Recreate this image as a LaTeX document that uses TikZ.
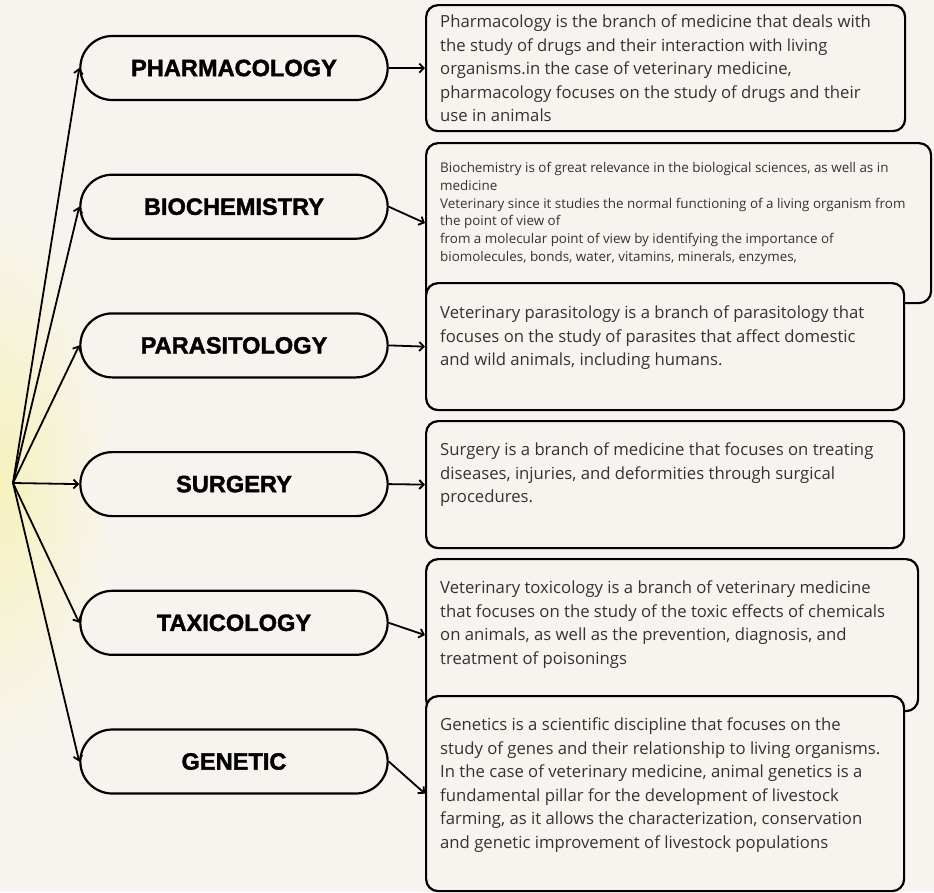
\documentclass[tikz,border=0pt]{standalone}
\usepackage{fontspec}
\setmainfont{Open Sans}
\newfontfamily\headfont[BoldFeatures={FakeBold=1.6}]{Liberation Sans}
\usetikzlibrary{positioning,shapes.misc,arrows.meta}

\definecolor{paper}{HTML}{F7F4EF}
\definecolor{glow}{HTML}{F6F2BE}
\definecolor{ink}{HTML}{333333}

\tikzset{
    topic/.style={rounded rectangle, draw, line width=2.2pt, fill=paper,
        minimum width=314pt, minimum height=64pt,
        font=\headfont\bfseries\fontsize{23.6}{24}\selectfont},
    infobox/.style={draw, line width=2.2pt, rounded corners=12pt, fill=paper,
        inner sep=0pt, anchor=north west},
    infotext/.style={anchor=north west, inner sep=0pt, text=ink, align=left,
        font=\fontsize{16.7}{23.5}\selectfont},
    smalltext/.style={infotext, font=\fontsize{13.4}{17.8}\selectfont},
    link/.style={-{Straight Barb[length=4.5pt, width=9pt, line width=1.8pt]}, line width=1.8pt},
}

\begin{document}
\begin{tikzpicture}[x=1pt, y=-1pt]
    % page and glow
    \fill[paper] (0,0) rectangle (934,892);
    \useasboundingbox (0,0) rectangle (934,892);
    \begin{scope}
        \clip (0,0) rectangle (934,892);
        \shade[inner color=glow, outer color=paper] (0,483) ellipse (115 and 280);
    \end{scope}

    % topics
    \coordinate (hub) at (13,483);
    \node[topic] (pharm) at (234,68) {PHARMACOLOGY};
    \node[topic, below=72.5pt of pharm] (bio) {BIOCHEMISTRY};
    \node[topic, below=72.5pt of bio] (para) {PARASITOLOGY};
    \node[topic, below=72.5pt of para] (surg) {SURGERY};
    \node[topic, below=72.5pt of surg] (taxi) {TAXICOLOGY};
    \node[topic, below=72.5pt of taxi] (gene) {GENETIC};

    % description boxes
    \node[infobox, minimum width=479pt, minimum height=126pt] (pharmbox) at (425,4) {};
    \node[infotext] (pharmtext) at ([shift={(15,11)}]pharmbox.north west)
        {Pharmacology is the branch of medicine that deals with\\
         the study of drugs and their interaction with living\\
         organisms.in the case of veterinary medicine,\\
         pharmacology focuses on the study of drugs and their\\
         use in animals};

    \node[infobox, minimum width=505pt, minimum height=160pt] (biobox) at (425,142) {};
    \node[smalltext] (biotext) at ([shift={(15,20)}]biobox.north west)
        {Biochemistry is of great relevance in the biological sciences, as well as in\\
         medicine\\
         Veterinary since it studies the normal functioning of a living organism from\\
         the point of view of\\
         from a molecular point of view by identifying the importance of\\
         biomolecules, bonds, water, vitamins, minerals, enzymes,};

    \node[infobox, minimum width=478pt, minimum height=127pt] (parabox) at (425,282) {};
    \node[infotext] (paratext) at ([shift={(15,24)}]parabox.north west)
        {Veterinary parasitology is a branch of parasitology that\\
         focuses on the study of parasites that affect domestic\\
         and wild animals, including humans.};

    \node[infobox, minimum width=478pt, minimum height=127pt] (surgbox) at (425,420) {};
    \node[infotext] (surgtext) at ([shift={(15,23)}]surgbox.north west)
        {Surgery is a branch of medicine that focuses on treating\\
         diseases, injuries, and deformities through surgical\\
         procedures.};

    \node[infobox, minimum width=492pt, minimum height=152pt] (taxibox) at (425,558) {};
    \node[infotext] (taxitext) at ([shift={(15,23)}]taxibox.north west)
        {Veterinary toxicology is a branch of veterinary medicine\\
         that focuses on the study of the toxic effects of chemicals\\
         on animals, as well as the prevention, diagnosis, and\\
         treatment of poisonings};

    \node[infobox, minimum width=478pt, minimum height=195pt] (genebox) at (425,695) {};
    \node[infotext] (genetext) at ([shift={(15,23)}]genebox.north west)
        {Genetics is a scientific discipline that focuses on the\\
         study of genes and their relationship to living organisms.\\
         In the case of veterinary medicine, animal genetics is a\\
         fundamental pillar for the development of livestock\\
         farming, as it allows the characterization, conservation\\
         and genetic improvement of livestock populations};

    % connectors
    \foreach \t in {pharm,bio,para,surg,taxi,gene} {
        \draw[link] (hub) -- (\t.west);
        \draw[link] (\t.east) -- (\t box.west);
    }
\end{tikzpicture}
\end{document}
